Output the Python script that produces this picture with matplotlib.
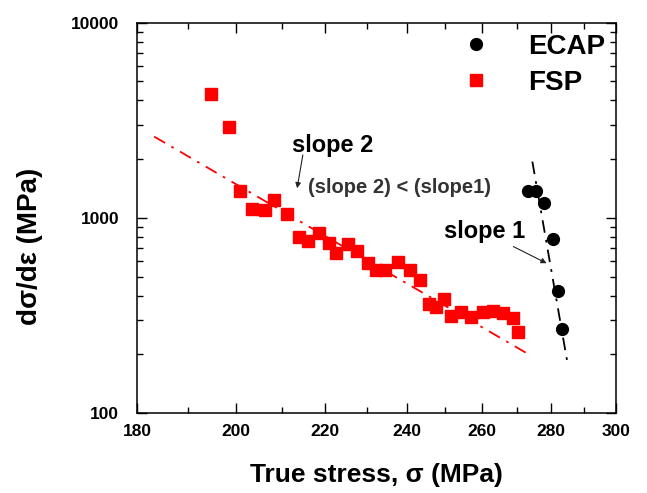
import numpy as np
import matplotlib
matplotlib.use('Agg')
import matplotlib.pyplot as plt
from matplotlib.ticker import FixedLocator, NullFormatter, FixedFormatter

plt.rcParams['font.family'] = ['Liberation Sans', 'DejaVu Sans']

# FSP data (true stress MPa, dsigma/deps MPa)
fsp_x = [194.8, 198.5, 200.8, 203.5, 206.3, 208.4, 211.3, 213.9, 216.1, 218.5,
         220.8, 222.6, 225.3, 227.7, 230.2, 232.2, 234.6, 237.7, 240.7, 243.4,
         245.7, 247.6, 249.6, 251.7, 254.4, 257.1, 260.2, 263.2, 266.0, 268.9, 270.3]
fsp_y = [4300, 2935, 1380, 1108, 1099, 1237, 1048, 796, 762, 841,
         747, 664, 733, 678, 590, 542, 542, 593, 542, 481,
         363, 349, 383, 316, 329, 312, 331, 335, 327, 306, 259]

# ECAP data
ecap_x = [273.0, 275.6, 277.9, 280.4, 282.1, 283.2]
ecap_y = [1380, 1380, 1198, 783, 424, 271]

# fit lines (end points)
fit2_x = [183.3, 272.7]
fit2_y = [2609, 203]
fit1_x = [274.4, 284.8]
fit1_y = [1943, 184]

xticks = [180, 200, 220, 240, 260, 280, 300]
xminor = [190, 210, 230, 250, 270, 290]
yticks = [100, 1000, 10000]

fig = plt.figure(figsize=(6.47, 4.93), dpi=100)
ax = fig.add_axes([0.212, 0.162, 0.740, 0.792])

ax.plot(fit2_x, fit2_y, color='red', lw=1.3, dashes=(7, 4, 1.5, 4))
ax.plot(fit1_x, fit1_y, color='black', lw=1.3, dashes=(7, 4, 1.5, 4))
ax.plot(fsp_x, fsp_y, 's', color='red', ms=9, mec='red', label='FSP', zorder=3)
ax.plot(ecap_x, ecap_y, 'o', color='black', ms=8.5, label='ECAP', zorder=3)

ax.set_xscale('log')
ax.set_yscale('log')
ax.set_xlim(180, 300)
ax.set_ylim(100, 10000)

ax.xaxis.set_major_locator(FixedLocator(xticks))
ax.xaxis.set_major_formatter(FixedFormatter([str(t) for t in xticks]))
ax.xaxis.set_minor_locator(FixedLocator(xminor))
ax.xaxis.set_minor_formatter(NullFormatter())
ax.yaxis.set_major_locator(FixedLocator(yticks))
ax.yaxis.set_major_formatter(FixedFormatter([str(t) for t in yticks]))
ax.yaxis.set_minor_formatter(NullFormatter())

ax.tick_params(which='both', direction='in', top=True, right=True, width=1)
ax.tick_params(which='major', length=7, labelsize=12.5)
ax.tick_params(which='minor', length=4)
ax.tick_params(axis='x', which='major', pad=8)
ax.tick_params(axis='y', which='major', pad=13)
for lab in ax.get_xticklabels() + ax.get_yticklabels():
    lab.set_fontweight('bold')
for sp in ax.spines.values():
    sp.set_linewidth(1.1)

ax.set_xlabel('True stress, σ (MPa)', fontsize=19, fontweight='bold')
ax.xaxis.set_label_coords(0.5, -0.128)
ax.set_ylabel('dσ/dε (MPa)', fontsize=20, fontweight='bold')
ax.yaxis.set_label_coords(-0.197, 0.426)

h, l = ax.get_legend_handles_labels()
ax.legend(h[::-1], l[::-1], loc='upper right', frameon=False,
          prop={'weight': 'bold', 'size': 20}, handletextpad=1.1,
          labelspacing=0.35, borderaxespad=0.2, borderpad=0.2,
          handlelength=1.5)

ax.text(221.8, 2337, 'slope 2', fontsize=17, fontweight='bold',
        ha='center', va='center')
ax.annotate('', xy=(213.5, 1419), xytext=(214.8, 2102),
            arrowprops=dict(arrowstyle='-|>', color='#222222', lw=0.8,
                            mutation_scale=8, shrinkA=0, shrinkB=0))
ax.text(215.9, 1424, '(slope 2) < (slope1)', fontsize=14.5, fontweight='bold',
        color='#333333', ha='left', va='center')
ax.text(260.7, 848, 'slope 1', fontsize=17, fontweight='bold',
        ha='center', va='center')
ax.annotate('', xy=(278.6, 586), xytext=(268.9, 713),
            arrowprops=dict(arrowstyle='-|>', color='#222222', lw=0.8,
                            mutation_scale=8, shrinkA=0, shrinkB=0))

fig.savefig('out.png', dpi=100)
